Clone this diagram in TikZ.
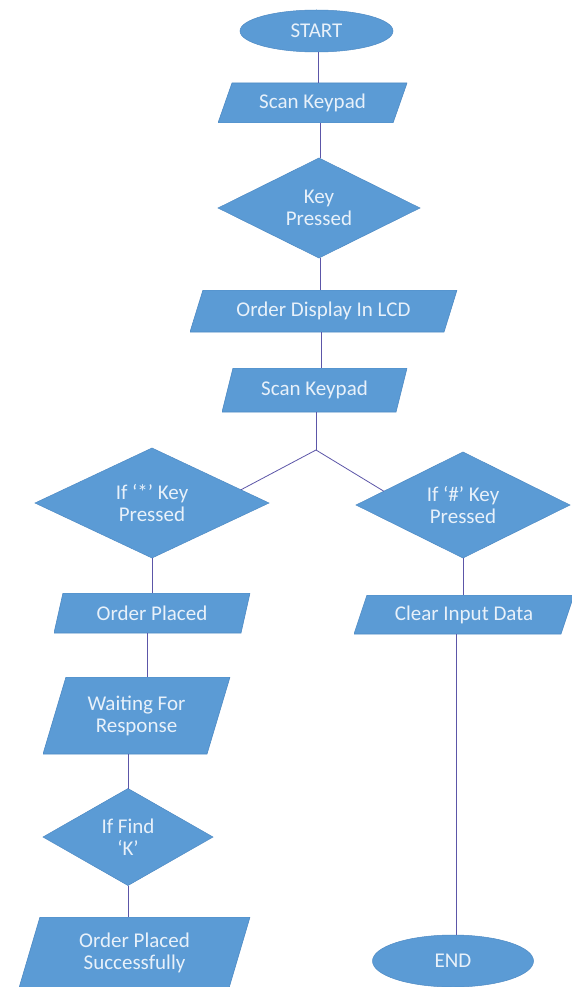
\documentclass[tikz,border=0pt]{standalone}
\usepackage{fontspec}
\setmainfont{Carlito}
\usetikzlibrary{shapes.geometric,calc}
\definecolor{boxfill}{RGB}{91,155,213}
\definecolor{boxedge}{RGB}{78,138,196}
\definecolor{wirecol}{RGB}{92,86,168}
\definecolor{boxtext}{RGB}{232,241,250}
\begin{document}
\begin{tikzpicture}[x=1pt,y=-1pt,
  lbl/.style={font=\fontsize{21}{22}\selectfont, text=boxtext, align=center, inner sep=0pt, outer sep=0pt},
  oval/.style={lbl, ellipse, fill=boxfill, draw=boxedge, line width=0.5pt},
  decide/.style={lbl, diamond, aspect=2, fill=boxfill, draw=boxedge, line width=0.5pt},
  io/.style={lbl, rectangle, path picture={\fill[boxfill, draw=boxedge, line width=0.6pt]
      ([xshift=#1]path picture bounding box.north west) -- (path picture bounding box.north east)
      -- ([xshift=-#1]path picture bounding box.south east) -- (path picture bounding box.south west) -- cycle;}},
  wire/.style={draw=wirecol, line width=0.8pt}]
\useasboundingbox[fill=white] (0,0) rectangle (572,987);

\node[oval, minimum width=153, minimum height=42] (start) at (316.5,31) {START};
\node[io=14, minimum width=189, minimum height=40] (scan1) at (312.5,103) {Scan Keypad};
\node[decide, minimum width=202, minimum height=100] (key) at (319,208) {Key\\Pressed};
\node[io=13, minimum width=267, minimum height=42] (disp) at (323.5,311) {Order Display In LCD};
\node[io=11, minimum width=185, minimum height=44] (scan2) at (314.5,390) {Scan Keypad};
\coordinate (j) at (316,450);
\node[decide, minimum width=234, minimum height=110] (star) at (152,503) {If ‘*’ Key\\Pressed};
\node[decide, minimum width=214, minimum height=106] (hash) at (463,505) {If ‘\#’ Key\\Pressed};
\node[io=9, minimum width=196, minimum height=40] (placed) at (152,613) {Order Placed};
\node[io=23, minimum width=187, minimum height=77] (wait) at (136.5,715.5) {Waiting For\\Response};
\node[decide, minimum width=170, minimum height=97] (find) at (128,837) {If Find\\‘K’};
\node[io=21, minimum width=231, minimum height=71] (succ) at (134.5,952.5) {Order Placed\\Successfully};
\node[io=13, minimum width=220, minimum height=39] (clear) at (464,614.5) {Clear Input Data};
\node[oval, minimum width=161, minimum height=52] (endn) at (453,961) {END};

\draw[wire] ([xshift=2]start.south) -- ([xshift=2]start.south |- scan1.north);
\draw[wire] ([xshift=1]key.north |- scan1.south) -- ([xshift=1]key.north);
\draw[wire] ([xshift=1]key.south) -- ([xshift=1]key.south |- disp.north);
\draw[wire] ([xshift=-2]disp.south) -- ([xshift=-2]disp.south |- scan2.north);
\draw[wire] (j |- scan2.south) -- (j);
\draw[wire] (j) -- ($(star.north)!0.76!(star.east)$);
\draw[wire] (j) -- ($(hash.north)!0.74!(hash.west)$);
\draw[wire] (star.south) -- (star.south |- placed.north);
\draw[wire] ([xshift=-5]placed.south) -- ([xshift=-5]placed.south |- wait.north);
\draw[wire] (find.north |- wait.south) -- (find.north);
\draw[wire] (find.south) -- (find.south |- succ.north);
\draw[wire] (hash.south) -- (hash.south |- clear.north);
\draw[wire] ([xshift=3]endn.north |- clear.south) -- ([xshift=3]endn.north);
\end{tikzpicture}
\end{document}
